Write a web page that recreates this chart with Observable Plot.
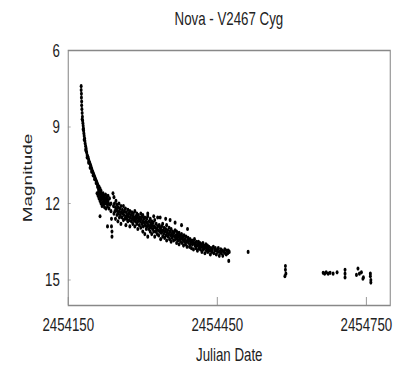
<!DOCTYPE html>
<html><head><meta charset="utf-8">
<script src="https://cdn.jsdelivr.net/npm/d3@7"></script>
<script src="https://cdn.jsdelivr.net/npm/@observablehq/plot@0.6"></script>
<style>
html,body{margin:0;padding:0;background:#fff;overflow:hidden;}
#wrap{position:relative;width:567px;height:370px;transform:scaleX(0.7);transform-origin:0 0;font-family:"Liberation Sans",Arial,sans-serif;}
#title{position:absolute;left:97px;width:460px;top:9px;text-align:center;font-size:19px;line-height:19px;color:#222;}
#chart{position:absolute;left:0;top:0;}
</style></head>
<body><div id="wrap"><div id="chart"></div><div id="title">Nova - V2467 Cyg</div></div>
<script>
// Julian Date = jdStart + day offset
const jdStart = 2454150;
const xTicks = [2454150, 2454450, 2454750];
const yTicks = [6, 9, 12, 15];

// [day offset, magnitude]
const earlyDecline = [
[26,7.40],[26,7.55],[26.5,7.70],[26.5,7.85],[27,8.00],[27,8.15],[27.5,8.30],[28,8.45],[28.5,8.60],[29,8.75],
[29.5,8.85],[30,8.95],[30.5,9.05],[31,9.15],[31.5,9.25],[32,9.35],[33,9.45],[33.5,9.55],[34,9.65],[35,9.75],
[36,9.85],[36.5,9.95],[37,10.00],[38,10.10],[39,10.15],[40,10.20],[41,10.28],[42,10.35],[43,10.40],[44,10.45],
[45,10.50],[46,10.57],[47,10.63],[48,10.70],[49,10.75],[50,10.80],[51,10.85],[52,10.90],[53,10.95],[54,11.00],
[55,11.05],[56,11.10],[57,11.15],[58,11.20],[59,11.25],[60,11.30],[62,11.35],[64,11.42],[66,11.50],
[28,8.70],[30,9.10],[32,9.50],[35,9.90],[38,10.20],[41,10.40],[44,10.60],[47,10.75],[50,10.90],[53,11.05],
[56,11.20],[59,11.35],[61,11.45],[63,11.55]
];
const plateau = [
[58,11.6],[60,11.7],[61,11.55],[62,11.8],[63,11.65],[64,11.9],[64,12.5],[65,11.75],[66,11.6],[66,12.0],
[67,11.85],[68,11.7],[68,12.1],[69,11.95],[70,11.6],[70,11.8],[71,12.05],[72,11.7],[72,11.9],[73,12.15],
[74,11.8],[74,12.0],[75,11.65],[76,11.9],[76,12.2],[77,11.75],[78,12.0],[78,11.85],[79,12.1],[80,11.9],
[80,11.7],[81,12.0],[82,12.2],[83,11.8],[84,12.05],[79,12.9],
[86,12.3],[87,12.6],[87,12.9],[88,13.1],[88,13.3],[86,12.0],[90,11.6],[92,11.75]
];
const band = [
[91,12.1],[92,12.4],[93,12.0],[94,12.3],[95,12.15],[95,12.6],[96,11.9],[97,12.25],[98,12.45],[98,12.05],
[99,12.3],[100,12.7],[100,12.15],[101,12.4],[102,12.0],[103,12.3],[103,12.55],[104,12.2],[105,12.45],[106,12.1],
[106,12.8],[107,12.35],[108,12.55],[109,12.25],[110,12.4],[111,12.65],[111,12.1],[112,12.45],[113,12.3],[114,12.6],
[115,12.2],[116,12.5],[116,12.85],[117,12.35],[118,12.6],[119,12.45],[120,12.25],[120,12.7],[121,12.5],[122,12.4],
[123,12.65],[124,12.3],[124,12.9],[125,12.55],[126,12.45],[127,12.7],[128,12.35],[129,12.6],[130,12.8],[130,12.5],
[131,12.4],[132,12.65],[133,12.55],[134,12.9],[134,12.3],[135,12.7],[136,12.5],[137,12.6],[138,12.8],[138,12.4],
[139,12.55],[140,13.0],[140,12.7],[141,12.45],[142,12.6],[143,12.85],[144,12.55],[145,12.7],[146,12.95],[146,12.4],
[147,12.6],[148,12.8],[149,12.5],[150,13.1],[150,12.7],[151,12.9],[152,12.6],[153,12.75],[154,13.2],[154,12.55],
[155,12.85],[156,12.7],[157,13.0],[158,12.6],[158,12.9],[159,12.75],[160,13.3],[160,12.5],[161,12.85],[162,13.0],
[163,12.7],[164,12.9],[165,13.1],[165,12.6],[166,12.8],[167,12.95],[168,13.2],[168,12.7],[169,12.85],[170,13.0],
[171,12.75],[172,13.1],[173,12.9],[174,13.3],[174,12.65],[175,12.95],[176,13.1],[177,12.8],[178,13.0],[179,13.2],
[180,12.9],[181,13.05],[182,13.25],[183,12.85],[184,13.1],[185,12.95],[186,13.4],[186,13.0],[187,13.15],[188,12.9],
[189,13.1],[190,13.3],[190,12.8],[191,13.05],[192,13.2],[193,12.95],[194,13.35],[195,13.1],[196,13.0],[197,13.25],
[198,12.85],[198,13.45],[199,13.15],[200,13.05],[201,13.3],[202,13.2],[203,12.95],[204,13.4],[205,13.1],[206,13.25],
[207,13.5],[207,13.0],[208,13.2],[209,13.35],[210,13.1],[211,13.25],[212,13.45],[213,13.15],[214,13.3],[215,13.05],
[216,13.4],[217,13.25],[218,13.55],[218,13.1],[219,13.35],[220,13.2],[221,13.45],[222,13.3],[223,13.6],[223,13.15],
[224,13.4],[225,13.25],[226,13.5],[227,13.35],[228,13.2],[229,13.55],[230,13.4],[231,13.3],[232,13.65],[232,13.45],
[233,13.25],[234,13.5],[235,13.4],[236,13.6],[237,13.3],[238,13.5],[239,13.7],[240,13.45],[241,13.35],[242,13.55],
[243,13.45],[244,13.7],[245,13.4],[246,13.6],[247,13.5],[248,13.75],[249,13.45],[250,13.6],[251,13.5],[252,13.8],
[253,13.55],[254,13.4],[255,13.65],[256,13.55],[257,13.75],[258,13.5],[259,13.65],[260,13.85],[261,13.6],[262,13.5],
[263,13.75],[264,13.65],[265,13.55],[266,13.8],[267,13.7],[268,13.6],[269,13.9],[270,13.7],[271,13.55],[272,13.8],
[273,13.65],[274,13.75],[275,13.95],[276,13.7],[277,13.6],[278,13.85],[279,13.75],[280,13.65],[281,13.9],[282,13.8],
[283,13.7],[285,13.85],[286,14.0],[287,13.75],[289,13.9],[290,13.8],[292,13.7],[293,13.95],[295,13.85],[296,13.75],
[298,14.0],[299,13.85],[301,13.9],[302,13.75],[304,14.05],[305,13.9],[307,13.8],[308,13.95],[310,13.85],[311,14.05],
[313,13.9],[315,13.8],[316,13.95],[318,14.0],[319,13.85],[321,13.95],[322,13.85],[324,13.9],[323,14.25]
];
const upperScatter = [
[150,12.45],[160,12.4],[172,12.5],[180,12.55],[185,12.55],[196,12.6],[205,12.65],[215,12.75],[228,12.85],[240,13.0]
];
const lateTail = [
[362,13.9],
[437,14.45],[437,14.6],[438,14.75],[436,14.85],
[513,14.72],[516,14.75],[519,14.7],[523,14.75],[527,14.72],[533,14.75],[541,14.7],
[557,14.6],[557,14.75],[557,14.9],
[580,14.8],[583,14.55],[586,14.75],[590,14.7],[594,14.9],[593,14.95],
[608,14.75],[608,14.85],[609,15.0],[609,15.1]
];

const observations = [...earlyDecline, ...plateau, ...band, ...upperScatter, ...lateTail]
  .map(([d, m]) => ({jd: jdStart + d, mag: m}));

const plot = Plot.plot({
  width: 567, height: 370,
  marginLeft: 97, marginRight: 10, marginTop: 50, marginBottom: 65,
  style: {fontFamily: "Liberation Sans, Arial, sans-serif", fontSize: "19px", background: "transparent", color: "#222"},
  x: {domain: [2454150, 2454798]},
  y: {domain: [6, 16], reverse: true},
  marks: [
    Plot.axisX(xTicks, {anchor: "bottom", tickSize: 8, dy: -8, tickPadding: 12, tickFormat: "d", stroke: "#888", fill: "#222",
      label: "Julian Date", labelAnchor: "center", labelOffset: 55, labelArrow: "none"}),
    Plot.axisY(yTicks, {anchor: "left", tickSize: 4, dx: 4, tickPadding: 12, stroke: "#999", fill: "#222",
      label: "Magnitude", labelAnchor: "center", labelOffset: 66, labelArrow: "none"}),
    Plot.frame({stroke: "#888", strokeWidth: 1.5}),
    Plot.dot(observations, {x: "jd", y: "mag", r: 2.1, fill: "#000", stroke: null})
  ]
});
document.getElementById("chart").appendChild(plot);
</script>
</body></html>
